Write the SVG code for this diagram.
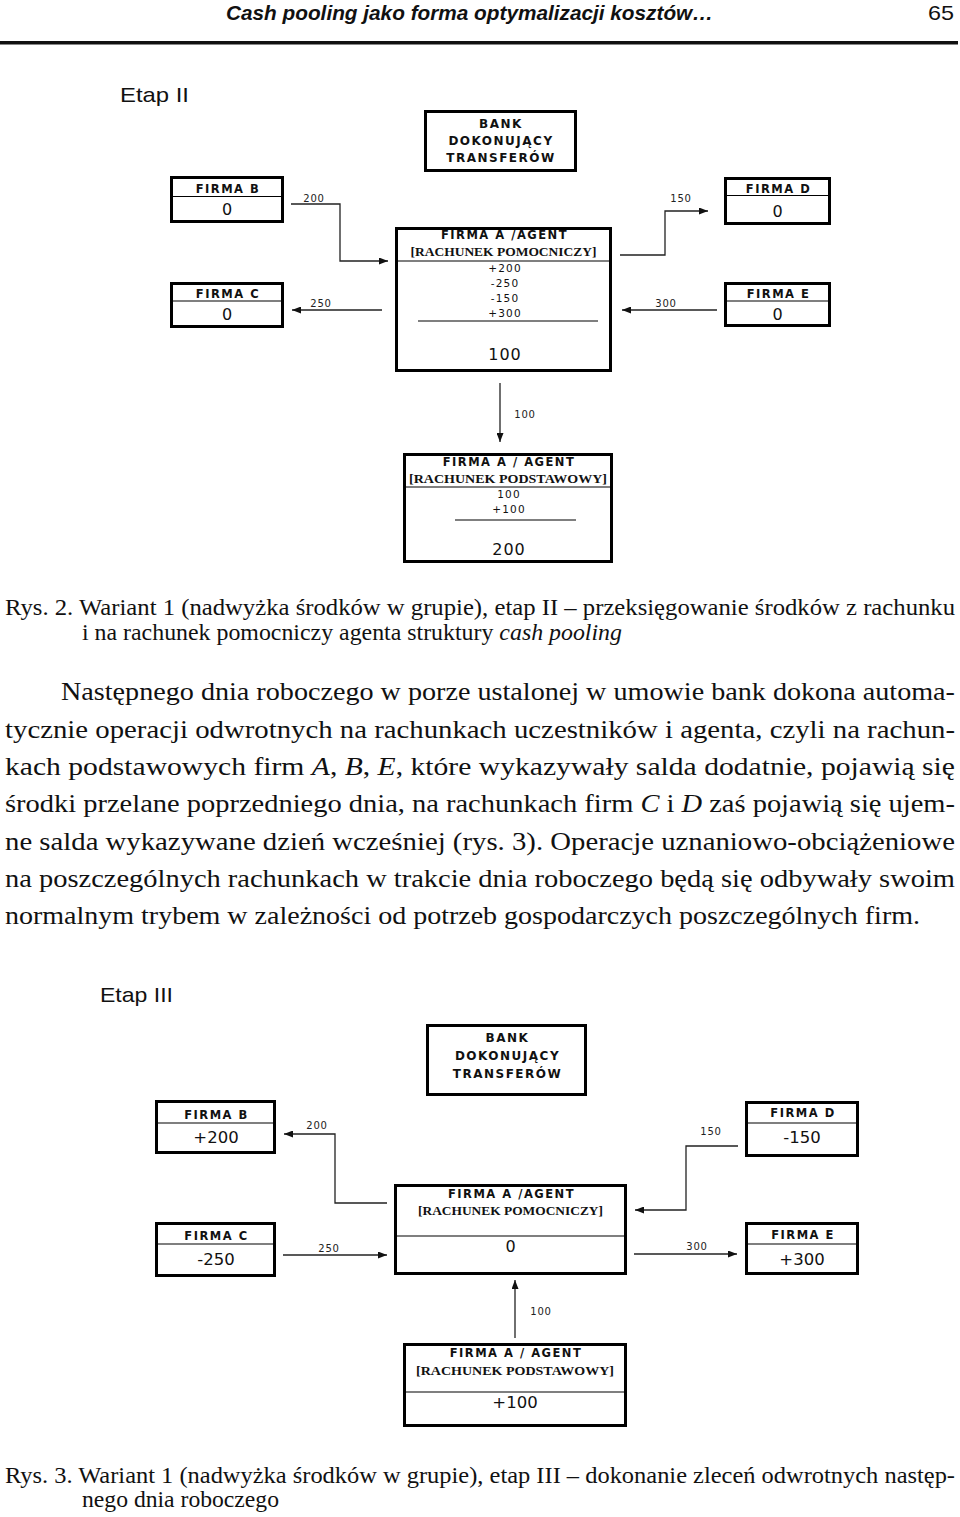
<svg xmlns="http://www.w3.org/2000/svg" width="960" height="1517" viewBox="0 0 960 1517">
<style>
.box{fill:#fff;stroke:#000;stroke-width:3}
.div{stroke:#000;stroke-width:1.2}
.con{fill:none;stroke:#222;stroke-width:1.3}
.lbl{font-family:"DejaVu Sans",Verdana,sans-serif;font-weight:bold;font-size:11.5px;letter-spacing:1.5px;text-anchor:middle;fill:#111}
.bank{font-family:"DejaVu Sans",Verdana,sans-serif;font-weight:bold;font-size:12px;letter-spacing:1.5px;text-anchor:middle;fill:#111}
.rach{font-family:"Liberation Serif","Times New Roman",serif;font-weight:bold;font-size:12.5px;text-anchor:middle;fill:#111}
.num{font-family:"DejaVu Sans",Verdana,sans-serif;font-size:10.5px;letter-spacing:1.2px;text-anchor:middle;fill:#111}
.big{font-family:"DejaVu Sans",Verdana,sans-serif;font-size:16px;text-anchor:middle;fill:#111}
.big2{font-family:"DejaVu Sans",Verdana,sans-serif;font-size:16.5px;text-anchor:middle;fill:#111}
.cl{font-family:"DejaVu Sans",Verdana,sans-serif;font-size:10px;letter-spacing:0.8px;text-anchor:middle;fill:#222}
.etap{font-family:"Liberation Sans",Arial,sans-serif;font-size:21px;fill:#111}
.cap{font-family:"Liberation Serif","Times New Roman",serif;font-size:23px;fill:#111}
.par{font-family:"Liberation Serif","Times New Roman",serif;font-size:26px;fill:#111}
.it{font-style:italic}
.hdr{font-family:"Liberation Sans",Arial,sans-serif;font-size:21px;fill:#111}
</style>
<defs>
<marker id="ah" markerWidth="9" markerHeight="7" refX="9" refY="3.5" orient="auto" markerUnits="userSpaceOnUse"><path d="M0,0 L9,3.5 L0,7 z" fill="#111"/></marker>
</defs>

<g id="header">
<text class="hdr" x="226" y="20" font-weight="bold" font-style="italic" textLength="487" lengthAdjust="spacingAndGlyphs">Cash pooling jako forma optymalizacji kosztów…</text>
<text class="hdr" x="928" y="20" font-size="22" textLength="26" lengthAdjust="spacingAndGlyphs">65</text>
<rect x="0" y="41" width="958" height="3.5" fill="#111"/>
</g>

<text class="etap" x="120" y="102" textLength="69" lengthAdjust="spacingAndGlyphs">Etap II</text>

<g id="connectors-etap2">
<polyline class="con" points="291,204 340,204 340,261 388,261" marker-end="url(#ah)"/>
<line class="con" x1="382" y1="310" x2="292" y2="310" marker-end="url(#ah)"/>
<polyline class="con" points="620,255 665,255 665,211 708,211" marker-end="url(#ah)"/>
<line class="con" x1="717" y1="310" x2="622" y2="310" marker-end="url(#ah)"/>
<line class="con" x1="500" y1="383" x2="500" y2="442" marker-end="url(#ah)"/>
<text class="cl" x="314" y="202">200</text>
<text class="cl" x="321" y="307">250</text>
<text class="cl" x="681" y="202">150</text>
<text class="cl" x="666" y="307">300</text>
<text class="cl" x="525" y="418">100</text>
</g>

<g id="bank2">
<rect class="box" x="425.5" y="111.5" width="150" height="59"/>
<text class="bank" x="501" y="127.5">BANK</text>
<text class="bank" x="501" y="145">DOKONUJĄCY</text>
<text class="bank" x="501" y="162">TRANSFERÓW</text>
</g>

<g id="firmaB2">
<rect class="box" x="171.5" y="177.5" width="111" height="44"/>
<line class="div" x1="171.5" y1="196.5" x2="282.5" y2="196.5"/>
<text class="lbl" x="228" y="193">FIRMA B</text>
<text class="big" x="227" y="215">0</text>
</g>

<g id="firmaC2">
<rect class="box" x="171.5" y="283.5" width="111" height="43"/>
<line class="div" x1="171.5" y1="301" x2="282.5" y2="301"/>
<text class="lbl" x="228" y="298">FIRMA C</text>
<text class="big" x="227" y="320">0</text>
</g>

<g id="firmaD2">
<rect class="box" x="725.5" y="178.5" width="104" height="45"/>
<line class="div" x1="725.5" y1="195.5" x2="829.5" y2="195.5"/>
<text class="lbl" x="778.5" y="193">FIRMA D</text>
<text class="big" x="777.5" y="216.5">0</text>
</g>

<g id="firmaE2">
<rect class="box" x="725.5" y="283.5" width="104" height="42"/>
<line class="div" x1="725.5" y1="301" x2="829.5" y2="301"/>
<text class="lbl" x="778.5" y="298">FIRMA E</text>
<text class="big" x="777.5" y="320">0</text>
</g>

<g id="agentPom2">
<rect class="box" x="396.5" y="228.5" width="214" height="142"/>
<text class="lbl" x="504.5" y="239">FIRMA A /AGENT</text>
<text class="rach" x="503.5" y="256" textLength="186" lengthAdjust="spacingAndGlyphs">[RACHUNEK POMOCNICZY]</text>
<line class="div" x1="396.5" y1="261" x2="610.5" y2="261"/>
<text class="num" x="505" y="271.5">+200</text>
<text class="num" x="505" y="286.5">-250</text>
<text class="num" x="505" y="301.5">-150</text>
<text class="num" x="505" y="317">+300</text>
<line class="div" x1="418" y1="321" x2="598" y2="321"/>
<text class="big" x="505" y="360" font-size="15" letter-spacing="1">100</text>
</g>

<g id="agentPodst2">
<rect class="box" x="404.5" y="454.5" width="207" height="107"/>
<text class="lbl" x="509" y="466">FIRMA A / AGENT</text>
<text class="rach" x="508" y="482.5" textLength="198" lengthAdjust="spacingAndGlyphs">[RACHUNEK PODSTAWOWY]</text>
<line class="div" x1="404.5" y1="487" x2="611.5" y2="487"/>
<text class="num" x="509" y="498">100</text>
<text class="num" x="509" y="513">+100</text>
<line class="div" x1="455" y1="520" x2="576" y2="520"/>
<text class="big" x="509" y="555" font-size="15" letter-spacing="1">200</text>
</g>

<g id="caption2">
<text class="cap" x="5" y="615" textLength="950" lengthAdjust="spacingAndGlyphs">Rys. 2. Wariant 1 (nadwyżka środków w grupie), etap II – przeksięgowanie środków z rachunku</text>
<text class="cap" x="82" y="640" textLength="540" lengthAdjust="spacingAndGlyphs">i na rachunek pomocniczy agenta struktury <tspan class="it">cash pooling</tspan></text>
</g>

<g id="paragraph">
<text class="par" x="61" y="700" textLength="894" lengthAdjust="spacingAndGlyphs">Następnego dnia roboczego w porze ustalonej w umowie bank dokona automa-</text>
<text class="par" x="5" y="738" textLength="950" lengthAdjust="spacingAndGlyphs">tycznie operacji odwrotnych na rachunkach uczestników i agenta, czyli na rachun-</text>
<text class="par" x="5" y="775" textLength="950" lengthAdjust="spacingAndGlyphs">kach podstawowych firm <tspan class="it">A</tspan>, <tspan class="it">B</tspan>, <tspan class="it">E</tspan>, które wykazywały salda dodatnie, pojawią się</text>
<text class="par" x="5" y="812" textLength="950" lengthAdjust="spacingAndGlyphs">środki przelane poprzedniego dnia, na rachunkach firm <tspan class="it">C</tspan> i <tspan class="it">D</tspan> zaś pojawią się ujem-</text>
<text class="par" x="5" y="849.5" textLength="950" lengthAdjust="spacingAndGlyphs">ne salda wykazywane dzień wcześniej (rys. 3). Operacje uznaniowo-obciążeniowe</text>
<text class="par" x="5" y="887" textLength="950" lengthAdjust="spacingAndGlyphs">na poszczególnych rachunkach w trakcie dnia roboczego będą się odbywały swoim</text>
<text class="par" x="5" y="924" textLength="915" lengthAdjust="spacingAndGlyphs">normalnym trybem w zależności od potrzeb gospodarczych poszczególnych firm.</text>
</g>

<text class="etap" x="100" y="1002" textLength="73" lengthAdjust="spacingAndGlyphs">Etap III</text>

<g id="connectors-etap3">
<polyline class="con" points="387,1203 335,1203 335,1134 284,1134" marker-end="url(#ah)"/>
<line class="con" x1="283" y1="1255" x2="387" y2="1255" marker-end="url(#ah)"/>
<polyline class="con" points="738,1146 686,1146 686,1210 635,1210" marker-end="url(#ah)"/>
<line class="con" x1="634" y1="1254" x2="737" y2="1254" marker-end="url(#ah)"/>
<line class="con" x1="515" y1="1338" x2="515" y2="1280" marker-end="url(#ah)"/>
<text class="cl" x="317" y="1129">200</text>
<text class="cl" x="329" y="1252">250</text>
<text class="cl" x="711" y="1135">150</text>
<text class="cl" x="697" y="1250">300</text>
<text class="cl" x="541" y="1315">100</text>
</g>

<g id="bank3">
<rect class="box" x="427.5" y="1025.5" width="158" height="69"/>
<text class="bank" x="507.5" y="1042">BANK</text>
<text class="bank" x="507.5" y="1060">DOKONUJĄCY</text>
<text class="bank" x="507.5" y="1078">TRANSFERÓW</text>
</g>

<g id="firmaB3">
<rect class="box" x="156.5" y="1101.5" width="118" height="51"/>
<line class="div" x1="156.5" y1="1123" x2="274.5" y2="1123"/>
<text class="lbl" x="216.5" y="1119" font-size="12">FIRMA B</text>
<text class="big2" x="216" y="1143">+200</text>
</g>

<g id="firmaC3">
<rect class="box" x="156.5" y="1223.5" width="118" height="52"/>
<line class="div" x1="156.5" y1="1244" x2="274.5" y2="1244"/>
<text class="lbl" x="216.5" y="1240" font-size="12">FIRMA C</text>
<text class="big2" x="216" y="1265">-250</text>
</g>

<g id="firmaD3">
<rect class="box" x="746.5" y="1102.5" width="111" height="53"/>
<line class="div" x1="746.5" y1="1123" x2="857.5" y2="1123"/>
<text class="lbl" x="803" y="1117" font-size="12">FIRMA D</text>
<text class="big2" x="802" y="1143">-150</text>
</g>

<g id="firmaE3">
<rect class="box" x="746.5" y="1223.5" width="111" height="50"/>
<line class="div" x1="746.5" y1="1244" x2="857.5" y2="1244"/>
<text class="lbl" x="803" y="1239" font-size="12">FIRMA E</text>
<text class="big2" x="802" y="1265">+300</text>
</g>

<g id="agentPom3">
<rect class="box" x="395.5" y="1185.5" width="230" height="88"/>
<text class="lbl" x="511.5" y="1198">FIRMA A /AGENT</text>
<text class="rach" x="510.5" y="1215" textLength="185" lengthAdjust="spacingAndGlyphs">[RACHUNEK POMOCNICZY]</text>
<line class="div" x1="395.5" y1="1236" x2="625.5" y2="1236"/>
<text class="big" x="510.5" y="1252">0</text>
</g>

<g id="agentPodst3">
<rect class="box" x="404.5" y="1344.5" width="221" height="81"/>
<text class="lbl" x="516" y="1357">FIRMA A / AGENT</text>
<text class="rach" x="515" y="1375" textLength="198" lengthAdjust="spacingAndGlyphs">[RACHUNEK PODSTAWOWY]</text>
<line class="div" x1="404.5" y1="1392" x2="625.5" y2="1392"/>
<text class="big2" x="515" y="1408">+100</text>
</g>

<g id="caption3">
<text class="cap" x="5" y="1483" textLength="950" lengthAdjust="spacingAndGlyphs">Rys. 3. Wariant 1 (nadwyżka środków w grupie), etap III – dokonanie zleceń odwrotnych następ-</text>
<text class="cap" x="82" y="1507" textLength="197" lengthAdjust="spacingAndGlyphs">nego dnia roboczego</text>
</g>
</svg>
